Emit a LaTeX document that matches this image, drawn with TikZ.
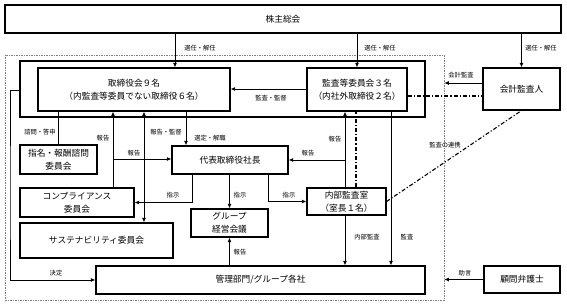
\documentclass[tikz,border=0pt]{standalone}
\usepackage{fontspec}
\setmainfont{Noto Sans CJK JP}
\usetikzlibrary{arrows.meta,calc}
\begin{document}
\begin{tikzpicture}[x=1pt,y=-1pt,
 box/.style={draw,line width=1.1pt,rectangle,inner sep=0pt,align=center,font=\fontsize{8.7}{13}\selectfont},
 lbl/.style={font=\fontsize{6.3}{7}\selectfont,inner sep=0.5pt},
 arr/.style={line width=0.9pt,-{Latex[length=4.5pt,width=4pt]}},
 dbl/.style={line width=0.9pt,{Latex[length=4.5pt,width=4pt]}-{Latex[length=4.5pt,width=4pt]}},
 ln/.style={line width=0.9pt},
 dd/.style={line width=1.1pt,dash pattern=on 4pt off 2pt on 1.2pt off 2pt},
]
\useasboundingbox[fill=white] (0,0) rectangle (567,306);
% frames
\node[draw=gray,dash pattern=on 1.5pt off 1pt,line width=0.5pt,minimum width=439pt,minimum height=245pt,inner sep=0pt] (outer) at (224.5,177.5) {};
\node[draw,line width=1.1pt,minimum width=405pt,minimum height=56pt,inner sep=0pt] (board) at (222.5,89) {};
% boxes
\node[box,minimum width=556pt,minimum height=28pt] (soukai) at (283,19) {株主総会};
\node[box,minimum width=192pt,minimum height=43pt] (tori) at (134,89.5) {取締役会９名\\（内監査等委員でない取締役６名）};
\node[box,minimum width=100pt,minimum height=43pt] (kansa) at (357,89.5) {監査等委員会３名\\（内社外取締役２名）};
\node[box,minimum width=77pt,minimum height=42pt] (kaikei) at (521.5,89) {会計監査人};
\node[box,minimum width=77pt,minimum height=29pt] (shimei) at (58.5,159.5) {指名・報酬諮問\\委員会};
\node[box,minimum width=116pt,minimum height=28pt] (daihyo) at (230,160) {代表取締役社長};
\node[box,minimum width=114pt,minimum height=29pt] (comp) at (77,202.5) {コンプライアンス\\委員会};
\node[box,minimum width=153pt,minimum height=35pt] (sus) at (96.5,240.5) {サステナビリティ委員会};
\node[box,minimum width=77pt,minimum height=28pt] (group) at (229.5,223) {グループ\\経営会議};
\node[box,minimum width=79pt,minimum height=27pt] (naibu) at (346.5,201.5) {内部監査室\\（室長１名）};
\node[box,minimum width=329pt,minimum height=28pt] (kanri) at (260.5,280) {管理部門/グループ各社};
\node[box,minimum width=76pt,minimum height=27pt] (komon) at (522,279.5) {顧問弁護士};
% helper coordinates
\coordinate (c175) at (175,0);
\coordinate (c113) at (113,0);
\coordinate (c144) at (144,0);
\coordinate (c186) at (186,0);
\coordinate (c192) at (192,0);
\coordinate (c268) at (268,0);
\coordinate (c345) at (345,0);
\coordinate (c356) at (356,0);
\coordinate (c391) at (391,0);
\coordinate (c10) at (10,200);
\coordinate (r83) at (0,83);
\coordinate (r89) at (0,89);
\coordinate (r90) at (0,90);
\coordinate (r96) at (0,96);
\coordinate (r159) at (0,159);
\coordinate (r160) at (0,160);
% top arrows
\draw[arr] (soukai.south -| c175) -- (tori.north -| c175);
\draw[arr] (soukai.south -| kansa.north) -- (kansa.north);
\draw[arr] (soukai.south -| kaikei.north) -- (kaikei.north);
\node[lbl] (l1) at (200,48) {選任・解任};
\node[lbl] (l2) at (380,48) {選任・解任};
\node[lbl] (l3) at (541,48) {選任・解任};
% board level
\draw[arr] (kansa.west |- r89) -- (tori.east |- r89);
\node[lbl] (l4) at (271,98) {監査・監督};
\draw[dd] (kansa.east |- r96) -- (kaikei.west |- r96);
\draw[arr] (kaikei.west |- r83) -- (outer.east |- r83);
\node[lbl] (l5) at (461,75) {会計監査};
% left side
\draw[ln] (tori.south -| shimei.north) -- (shimei.north);
\node[lbl] (l6) at (40,132) {諮問・答申};
\draw[arr] (comp.north -| c113) -- (tori.south -| c113);
\draw[arr] (c113 |- r159) -- (daihyo.west |- r159);
\node[lbl] (l7) at (103,138) {報告};
\node[lbl] (l8) at (134,153) {報告};
\draw[dbl] (tori.south -| c144) -- (sus.north -| c144);
\node[lbl] (l9) at (166,132) {報告・監督};
\draw[arr] (tori.south -| c186) -- (daihyo.north -| c186);
\node[lbl] (l10) at (210,138) {選定・解職};
% from president
\draw[arr] (daihyo.south -| c192) |- (comp.east);
\node[lbl] (l11) at (173,195) {指示};
\draw[arr] (daihyo.south -| group.north) -- (group.north);
\node[lbl] (l12) at (240,195) {指示};
\draw[arr] (daihyo.south -| c268) |- (naibu.west);
\node[lbl] (l13) at (289,195) {指示};
% internal audit
\draw[arr] (naibu.north -| c345) -- (kansa.south -| c345);
\draw[arr] (c345 |- r160) -- (daihyo.east |- r160);
\node[lbl] (l14) at (335,139) {報告};
\node[lbl] (l15) at (308,153) {報告};
\draw[dd] (naibu.north -| c356) -- (kansa.south -| c356);
\draw[arr] (kansa.south -| c391) -- (kanri.north -| c391);
\node[lbl] (l16) at (407,237) {監査};
\draw[arr] (naibu.south -| c345) -- (kanri.north -| c345);
\node[lbl] (l17) at (367,237) {内部監査};
\draw[dd] (naibu.east) -- (kaikei.south);
\node[lbl] (l18) at (445,145) {監査の連携};
% bottom
\draw[arr] (kanri.north -| group.south) -- (group.south);
\node[lbl] (l19) at (240,252) {報告};
\draw[arr] (board.west |- r90) -| (c10) |- (kanri.west);
\node[lbl] (l20) at (56,273) {決定};
\draw[arr] (komon.west) -- (outer.east |- komon.west);
\node[lbl] (l21) at (465,273) {助言};
\end{tikzpicture}
\end{document}
